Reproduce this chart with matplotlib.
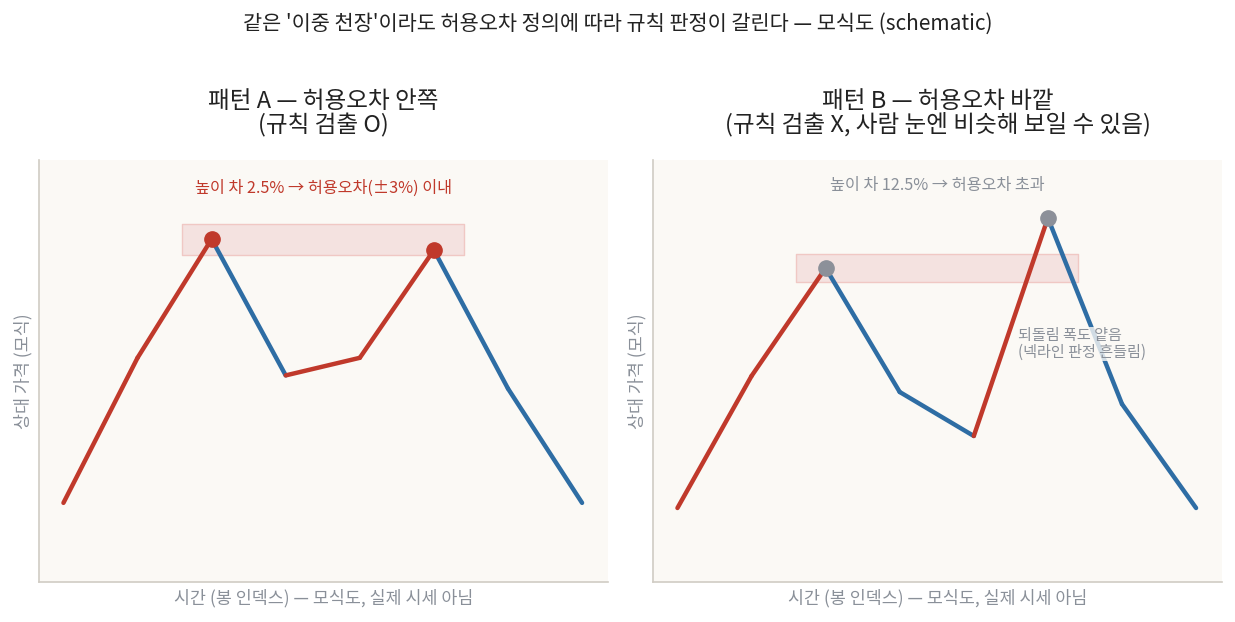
import matplotlib
matplotlib.use("Agg")
from matplotlib import pyplot as plt

plt.rcParams['font.family'] = ['Noto Sans CJK KR', 'DejaVu Sans']

# dados do modelo (índice de barra, preço relativo)
x_idx = [0, 1, 2, 3, 4, 5, 6, 7]
price_a = [40, 73, 100, 69, 73, 97.5, 66, 40]
price_b = [40, 73, 100, 69, 58, 112.5, 66, 40]
peaks_a = [2, 5]
peaks_b = [2, 5]
band_lo = 96.5
band_hi = 103.5
band_x = (1.6, 5.4)
ylim_a = (22, 118)
ylim_b = (21.5, 127)

title_main = "같은 '이중 천장'이라도 허용오차 정의에 따라 규칙 판정이 갈린다 — 모식도 (schematic)"
title_a = "패턴 A — 허용오차 안쪽\n(규칙 검출 O)"
title_b = "패턴 B — 허용오차 바깥\n(규칙 검출 X, 사람 눈엔 비슷해 보일 수 있음)"
note_a = "높이 차 2.5% → 허용오차(±3%) 이내"
note_b = "높이 차 12.5% → 허용오차 초과"
note_b2 = "되돌림 폭도 얕음\n(넥라인 판정 흔들림)"
xlabel = "시간 (봉 인덱스) — 모식도, 실제 시세 아님"
ylabel = "상대 가격 (모식)"

RED = "#c0392b"
BLUE = "#2e6da4"
GRAY = "#8a9099"
BG = "#fbf9f5"


def desenhar(ax, ys, peaks, peak_color, ylim, titulo):
    ax.set_facecolor(BG)
    ax.fill_between(band_x, band_lo, band_hi, facecolor="#f4e2e0",
                    edgecolor="#f0c8c4", linewidth=1.0, zorder=1)
    for i in range(1, len(x_idx)):
        cor = RED if ys[i] > ys[i-1] else BLUE
        ax.plot(x_idx[i-1:i+1], ys[i-1:i+1], color=cor, linewidth=3.2,
                solid_capstyle='round', zorder=2)
    ax.plot([x_idx[p] for p in peaks], [ys[p] for p in peaks], 'o',
            color=peak_color, markersize=11, zorder=3)
    ax.set_xlim(-0.33, 7.35)
    ax.set_ylim(*ylim)
    ax.set_xticks([])
    ax.set_yticks([])
    for s in ["top", "right"]:
        ax.spines[s].set_visible(False)
    for s in ["left", "bottom"]:
        ax.spines[s].set_color("#d0ccc4")
        ax.spines[s].set_linewidth(1.2)
    ax.set_xlabel(xlabel, color=GRAY, fontsize=12.5, labelpad=5)
    ax.set_ylabel(ylabel, color=GRAY, fontsize=12.5, labelpad=5)
    ax.set_title(titulo, fontsize=17, color="#222222", linespacing=1.0, pad=20)


fig = plt.figure(figsize=(12.35, 6.22), dpi=100)
ax1 = fig.add_axes([39/1235, 40/622, 569/1235, 422/622])
ax2 = fig.add_axes([653/1235, 40/622, 569/1235, 422/622])

desenhar(ax1, price_a, peaks_a, RED, ylim_a, title_a)
desenhar(ax2, price_b, peaks_b, "#8c9099", ylim_b, title_b)

ax1.text(0.5, 0.933, note_a, transform=ax1.transAxes, ha='center', va='center',
         color=RED, fontsize=11.7)
ax2.text(0.5, 0.94, note_b, transform=ax2.transAxes, ha='center', va='center',
         color=GRAY, fontsize=11.7)
ax2.text(4.6, 81, note_b2, ha='left', va='center', color=GRAY, fontsize=10.9,
         linespacing=0.95, zorder=4,
         bbox=dict(boxstyle='square,pad=0.05', facecolor=BG, edgecolor='none', alpha=0.8))

fig.suptitle(title_main, fontsize=15, color="#222222", y=0.98)

fig.savefig("out.png", dpi=100, facecolor="white")
